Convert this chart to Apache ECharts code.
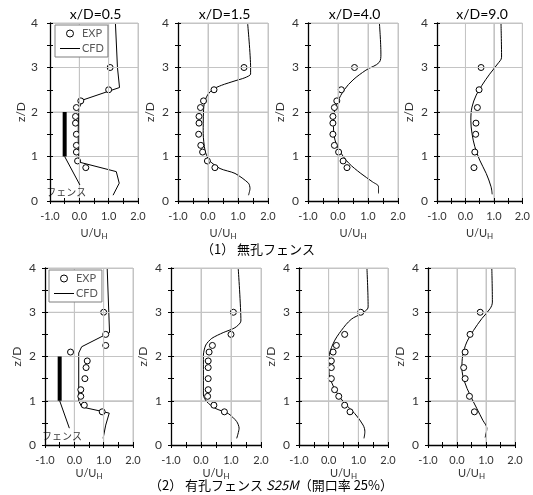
<!DOCTYPE html>
<html><head><meta charset="utf-8">
<script src="https://cdn.jsdelivr.net/npm/echarts@6/dist/echarts.min.js"></script>
<style>html,body{margin:0;padding:0;background:#fff}#c{width:533px;height:495px}</style>
</head><body><div id="c"></div>
<script>
// ---------- data ----------
const panelTitles = ['x/D=0.5', 'x/D=1.5', 'x/D=4.0', 'x/D=9.0'];
const rowCaptions = ['（1） 無孔フェンス', '（2） 有孔フェンス {it|S25M}（開口率 25%）'];
const xRange = [-1, 2];
const zRange = [0, 4];
const xGridVals = [0, 1, 2];
const zGridVals = [1, 2, 3, 4];
const fenceX = -0.5;
const fenceZ = [1, 2];
const fenceLabel = 'フェンス';
const fenceLabelTop = [[-0.45, 0.2]];
const fenceLeaderTop = [[-0.5, 1.0], [0.02, 0.36]];
const fenceLabelBot = [[-0.42, 0.2]];
const fenceLeaderBot = [[-0.5, 1.0], [-0.17, 0.38]];

// top row: 無孔フェンス  [U/UH, z/D]
const expT1 = [[1.05,3.0],[1.0,2.5],[0.05,2.25],[-0.1,2.1],[-0.13,1.9],[-0.13,1.75],[-0.1,1.5],[-0.1,1.25],[-0.1,1.1],[-0.06,0.9],[0.22,0.75]];
const cfdT1 = [[1.23,4.0],[1.3,3.0],[1.37,2.55],[0.12,2.27],[0.0,2.1],[-0.03,1.9],[-0.04,1.5],[-0.03,1.05],[0.02,0.87],[1.26,0.66],[1.36,0.4],[1.15,0.13]];
const expT2 = [[1.2,3.0],[0.2,2.5],[-0.15,2.25],[-0.25,2.1],[-0.3,1.9],[-0.3,1.75],[-0.31,1.5],[-0.24,1.25],[-0.18,1.1],[-0.02,0.9],[0.23,0.75]];
const cfdT2 = [[1.32,4.0],[1.42,3.0],[1.42,2.85],[1.23,2.77],[0.9,2.7],[0.45,2.6],[0.14,2.5],[-0.05,2.34],[-0.14,2.12],[-0.16,1.52],[-0.1,1.14],[0.03,0.92],[0.4,0.73],[0.9,0.62],[1.35,0.4],[1.4,0.28],[1.35,0.13]];
const expT3 = [[0.55,3.0],[0.11,2.5],[-0.04,2.25],[-0.12,2.1],[-0.17,1.9],[-0.17,1.75],[-0.17,1.5],[-0.12,1.25],[0.02,1.1],[0.17,0.9],[0.3,0.75]];
const cfdT3 = [[1.38,4.0],[1.43,3.3],[1.38,3.12],[0.93,2.94],[0.5,2.72],[0.21,2.5],[-0.01,2.23],[-0.13,1.97],[-0.15,1.67],[-0.1,1.37],[0.08,1.1],[0.36,0.85],[0.76,0.62],[1.15,0.43],[1.35,0.32],[1.35,0.17]];
const expT4 = [[0.55,3.0],[0.48,2.5],[0.42,2.1],[0.37,1.75],[0.36,1.5],[0.33,1.1],[0.3,0.75]];
const cfdT4 = [[1.25,4.0],[1.27,3.23],[1.13,3.08],[0.85,2.85],[0.58,2.6],[0.38,2.38],[0.23,2.11],[0.19,1.81],[0.23,1.52],[0.33,1.22],[0.5,0.92],[0.73,0.62],[0.9,0.32],[0.94,0.15]];

// bottom row: 有孔フェンス S25M
const expB1 = [[1.0,3.0],[1.07,2.5],[1.07,2.25],[-0.13,2.1],[0.44,1.9],[0.4,1.75],[0.36,1.5],[0.22,1.25],[0.22,1.1],[0.34,0.9],[0.95,0.75]];
const cfdB1 = [[1.12,4.0],[1.2,2.54],[0.25,2.22],[0.15,2.08],[0.15,1.0],[0.25,0.86],[0.87,0.77],[1.19,0.72],[1.07,0.45],[0.98,0.15]];
const expB2 = [[1.08,3.0],[1.0,2.5],[0.38,2.25],[0.27,2.1],[0.24,1.9],[0.24,1.75],[0.24,1.5],[0.24,1.25],[0.22,1.1],[0.43,0.9],[0.78,0.75]];
const cfdB2 = [[1.24,4.0],[1.33,2.8],[1.13,2.65],[0.74,2.54],[0.36,2.41],[0.16,2.26],[0.08,2.03],[0.08,1.13],[0.19,0.98],[0.47,0.83],[0.91,0.71],[1.19,0.53],[1.27,0.38],[1.19,0.15]];
const expB3 = [[1.08,3.0],[0.54,2.5],[0.26,2.25],[0.15,2.1],[0.09,1.9],[0.09,1.75],[0.09,1.5],[0.2,1.25],[0.34,1.1],[0.54,0.9],[0.72,0.75]];
const cfdB3 = [[1.29,4.0],[1.33,3.12],[1.1,2.97],[0.76,2.84],[0.43,2.59],[0.15,2.29],[0.01,1.95],[0.01,1.65],[0.09,1.43],[0.26,1.2],[0.54,0.94],[0.88,0.71],[1.16,0.45],[1.22,0.3],[1.19,0.15]];
const expB4 = [[0.8,3.0],[0.45,2.5],[0.28,2.1],[0.23,1.75],[0.28,1.5],[0.43,1.1],[0.6,0.75]];
const cfdB4 = [[1.2,4.0],[1.22,3.23],[1.14,3.08],[0.86,2.86],[0.57,2.59],[0.34,2.33],[0.2,2.03],[0.17,1.73],[0.26,1.43],[0.45,1.13],[0.68,0.83],[0.89,0.56],[1.03,0.38],[0.97,0.17]];

const expSets = [expT1, expT2, expT3, expT4, expB1, expB2, expB3, expB4];
const cfdSets = [cfdT1, cfdT2, cfdT3, cfdT4, cfdB1, cfdB2, cfdB3, cfdB4];

// ---------- layout ----------
const rowTop = [23, 268];
const rowH = [178, 177];
const lefts = [[50, 178, 308, 437], [45, 171, 299, 428]];
const widths = [[88, 90, 90, 87], [88, 90, 89, 87]];
const smoothFlag = [false, 0.25, 0.35, 0.35, false, 0.25, 0.35, 0.35];

const numFont = 'Lato, "Noto Sans", sans-serif';
const jpFont = '"Noto Sans CJK JP", sans-serif';

const grid = [], xAxis = [], yAxis = [], series = [], graphic = [];
const gridColor = '#c4c4c4';

for (let g = 0; g < 8; g++) {
  const r = g < 4 ? 0 : 1, c = g % 4;
  grid.push({ left: lefts[r][c], top: rowTop[r], width: widths[r][c], height: rowH[r], containLabel: false });
  xAxis.push({ gridIndex: g, type: 'value', min: xRange[0], max: xRange[1], interval: 1, position: 'bottom', z: 5,
    axisLine: { show: true, onZero: false, lineStyle: { color: '#000', width: 1.3 } },
    axisTick: { show: true, length: 3, lineStyle: { color: '#000', width: 1 } },
    minorTick: { show: true, splitNumber: 2, length: 3, lineStyle: { color: '#000', width: 1 } },
    axisLabel: { formatter: v => v.toFixed(1), fontSize: 11, color: '#333', margin: 10, fontFamily: numFont, showMinLabel: true, showMaxLabel: true },
    splitLine: { show: true, lineStyle: { color: gridColor, width: 1 } },
    name: 'U/U{sub|H}', nameLocation: 'middle', nameGap: r === 0 ? 25 : 21,
    nameTextStyle: { fontSize: 11, color: '#333', fontFamily: numFont,
      rich: { sub: { fontSize: 8, color: '#333', padding: [6, 0, 0, 0], fontFamily: numFont } } } });
  yAxis.push({ gridIndex: g, type: 'value', min: zRange[0], max: zRange[1], interval: 1, position: 'left', z: 5,
    axisLine: { show: true, onZero: false, lineStyle: { color: '#000', width: 1.3 } },
    axisTick: { show: true, length: 3, lineStyle: { color: '#000', width: 1 } },
    minorTick: { show: true, splitNumber: 2, length: 3, lineStyle: { color: '#000', width: 1 } },
    axisLabel: { formatter: v => String(v), fontSize: 12, color: '#333', margin: g === 0 ? 12 : 9, fontFamily: numFont },
    splitLine: { show: true, lineStyle: { color: gridColor, width: 1 } },
    name: 'z/D', nameLocation: 'middle', nameGap: 22, nameRotate: 90,
    nameTextStyle: { fontSize: 12, color: '#333', fontFamily: numFont } });
  xAxis.push({ gridIndex: g, type: 'value', min: xRange[0], max: xRange[1], interval: 0.5, position: 'bottom', z: 5,
    axisLine: { show: false, onZero: false }, axisTick: { show: true, inside: true, length: 3, lineStyle: { color: '#000' } },
    axisLabel: { show: false }, splitLine: { show: false } });
  yAxis.push({ gridIndex: g, type: 'value', min: zRange[0], max: zRange[1], interval: 0.5, position: 'left', z: 5,
    axisLine: { show: false, onZero: false }, axisTick: { show: true, inside: true, length: 3, lineStyle: { color: '#000' } },
    axisLabel: { show: false }, splitLine: { show: false } });

  const ax = 2 * g;
  // gridlines, placed through the axes' own scales
  xGridVals.forEach(v => series.push({ type: 'line', name: 'gx', xAxisIndex: ax, yAxisIndex: ax,
    data: [[v, zRange[0]], [v, zRange[1]]], symbol: 'none', silent: true, z: 1, animation: false, clip: false,
    lineStyle: { color: gridColor, width: 1 } }));
  zGridVals.forEach(v => series.push({ type: 'line', name: 'gz', xAxisIndex: ax, yAxisIndex: ax,
    data: [[xRange[0], v], [xRange[1], v]], symbol: 'none', silent: true, z: 1, animation: false, clip: false,
    lineStyle: { color: gridColor, width: 1 } }));

  series.push({ type: 'line', name: 'CFD', xAxisIndex: ax, yAxisIndex: ax, data: cfdSets[g],
    symbol: 'none', smooth: smoothFlag[g], lineStyle: { color: '#000', width: 1 }, itemStyle: { color: '#000' },
    z: 3, animation: false });
  series.push({ type: 'scatter', name: 'EXP', xAxisIndex: ax, yAxisIndex: ax, data: expSets[g],
    symbol: 'circle', symbolSize: 6, itemStyle: { color: '#fff', borderColor: '#000', borderWidth: 1, opacity: 1 },
    z: 4, animation: false });

  if (c === 0) {
    series.push({ type: 'line', name: 'fence', xAxisIndex: ax, yAxisIndex: ax,
      data: [[fenceX, fenceZ[0]], [fenceX, fenceZ[1]]], symbol: 'none',
      lineStyle: { color: '#000', width: 4, cap: 'butt' }, z: 5, animation: false });
    series.push({ type: 'line', name: 'fenceLeader', xAxisIndex: ax, yAxisIndex: ax,
      data: r === 0 ? fenceLeaderTop : fenceLeaderBot, symbol: 'none',
      lineStyle: { color: '#000', width: 1 }, z: 5, animation: false });
    series.push({ type: 'scatter', name: 'fenceLabel', xAxisIndex: ax, yAxisIndex: ax,
      data: r === 0 ? fenceLabelTop : fenceLabelBot, symbolSize: 0,
      label: { show: true, position: 'inside', formatter: fenceLabel, fontSize: 10, color: '#000', fontFamily: jpFont },
      z: 6, animation: false });
  }
  if (r === 0) {
    graphic.push({ type: 'text', x: lefts[r][c] + widths[r][c] / 2 + 1.5, y: 14,
      style: { text: panelTitles[c], textAlign: 'center', textVerticalAlign: 'middle',
        font: '14px ' + numFont, fill: '#000' } });
  }
}

graphic.push({ type: 'text', x: 258, y: 249,
  style: { text: rowCaptions[0], textAlign: 'center', textVerticalAlign: 'middle', font: '13px ' + jpFont, fill: '#000' } });
graphic.push({ type: 'text', x: 271, y: 485,
  style: { rich: { it: { fontStyle: 'italic', fontSize: 13, fontFamily: jpFont, fill: '#000' } },
    text: rowCaptions[1], textAlign: 'center', textVerticalAlign: 'middle', font: '13px ' + jpFont, fill: '#000' } });

const legendItem = {
  orient: 'vertical', backgroundColor: '#fff', borderColor: '#7f7f7f', borderWidth: 1,
  padding: [3, 4, 3, 5], itemGap: 4, itemWidth: 20, itemHeight: 7, z: 10,
  textStyle: { fontSize: 11, color: '#595959', fontFamily: numFont, padding: [0, 0, 0, -3] },
  selectedMode: false,
  data: [{ name: 'EXP', icon: 'circle', itemStyle: { color: '#fff', borderColor: '#000', borderWidth: 1 } },
         { name: 'CFD', icon: 'path://M0,0L40,0L40,2L0,2Z', itemStyle: { color: '#000', borderWidth: 0 } }]
};

const option = {
  animation: false,
  backgroundColor: '#fff',
  grid, xAxis, yAxis, series, graphic,
  legend: [Object.assign({ left: 55, top: 25 }, legendItem), Object.assign({ left: 49, top: 270 }, legendItem)]
};

const chart = echarts.init(document.getElementById('c'), null, { renderer: 'canvas' });
chart.setOption(option);
</script>
</body></html>
